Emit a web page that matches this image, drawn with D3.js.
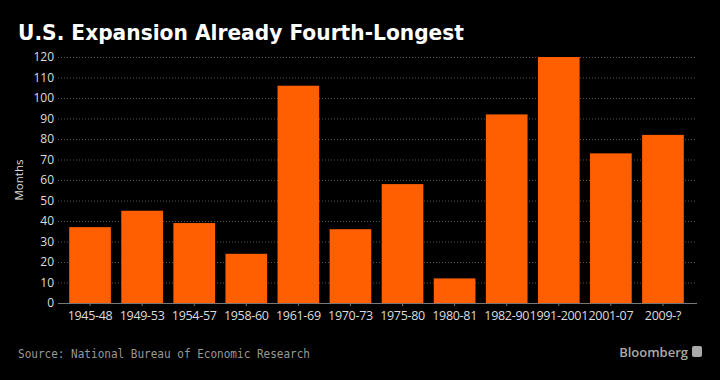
<!DOCTYPE html>
<html><head><meta charset="utf-8">
<script src="https://cdn.jsdelivr.net/npm/d3@7"></script>
<style>
html,body{margin:0;padding:0;background:#000;}
svg{display:block;}
</style></head>
<body>
<svg id="chart" width="720" height="380"></svg>
<script>
const categories = ["1945-48","1949-53","1954-57","1958-60","1961-69","1970-73","1975-80","1980-81","1982-90","1991-2001","2001-07","2009-?"];
const months = [37,45,39,24,106,36,58,12,92,120,73,82];
const yTicks = [0,10,20,30,40,50,60,70,80,90,100,110,120];

(function(){
const svg = d3.select("#chart");
const W = 720, H = 380;
svg.append("rect").attr("width",W).attr("height",H).attr("fill","#000");

const pLeft = 58, pRight = 697, pTop = 57, pBottom = 303;
const x = d3.scaleBand().domain(categories).range([64, 689]).paddingInner(0.2).paddingOuter(0.1);
const y = d3.scaleLinear().domain([0,120]).range([pBottom, pTop]);

svg.append("text").attr("x",18).attr("y",40)
  .attr("fill","#fff").attr("font-family","'DejaVu Sans', sans-serif")
  .attr("font-weight","bold").attr("font-size",21)
  .attr("textLength",446).attr("lengthAdjust","spacingAndGlyphs")
  .text("U.S. Expansion Already Fourth-Longest");

svg.append("g").selectAll("line").data(yTicks.filter(d=>d>0)).join("line")
  .attr("x1",pLeft).attr("x2",pRight).attr("y1",d=>y(d)+0.5).attr("y2",d=>y(d)+0.5)
  .attr("stroke","#555").attr("stroke-width",1).attr("stroke-dasharray","1,2");

const yAxis = d3.axisLeft(y).tickValues(yTicks).tickSize(0).tickPadding(4);
const gy = svg.append("g").attr("transform",`translate(${pLeft},0)`).call(yAxis);
gy.select(".domain").remove();
gy.selectAll("text").attr("fill","#ddd").attr("font-family","'Open Sans', sans-serif").attr("font-size",12);

svg.append("text").attr("transform","translate(23,180) rotate(-90)")
  .attr("text-anchor","middle").attr("fill","#ddd")
  .attr("font-family","'Open Sans', sans-serif").attr("font-size",11.5).text("Months");

svg.append("g").selectAll("rect").data(categories).join("rect")
  .attr("x",d=>x(d)).attr("width",x.bandwidth())
  .attr("y",(d,i)=>y(months[i])).attr("height",(d,i)=>y(0)-y(months[i]))
  .attr("fill","#ff5f00");

svg.append("line").attr("x1",pLeft).attr("x2",pRight).attr("y1",pBottom+0.5).attr("y2",pBottom+0.5)
  .attr("stroke","#777").attr("stroke-width",1);
const xAxis = d3.axisBottom(x).tickSize(3).tickPadding(5);
const gx = svg.append("g").attr("transform",`translate(0,${pBottom})`).call(xAxis);
gx.select(".domain").remove();
gx.selectAll("line").attr("stroke","#777");
gx.selectAll("text").attr("fill","#ddd").attr("font-family","'Open Sans', sans-serif").attr("font-size",12.5).attr("letter-spacing","-0.3");

svg.append("text").attr("x",18).attr("y",358).attr("fill","#999")
  .attr("font-family","'DejaVu Sans Mono', monospace").attr("font-size",12.5)
  .attr("textLength",292).attr("lengthAdjust","spacingAndGlyphs")
  .text("Source: National Bureau of Economic Research");

svg.append("text").attr("x",688).attr("y",357).attr("text-anchor","end").attr("fill","#aaa")
  .attr("font-family","'Open Sans', sans-serif").attr("font-weight",600).attr("font-size",13)
  .text("Bloomberg");
svg.append("rect").attr("x",692).attr("y",346).attr("width",10).attr("height",11).attr("rx",2).attr("fill","#aaa");
})();
</script>
</body></html>
